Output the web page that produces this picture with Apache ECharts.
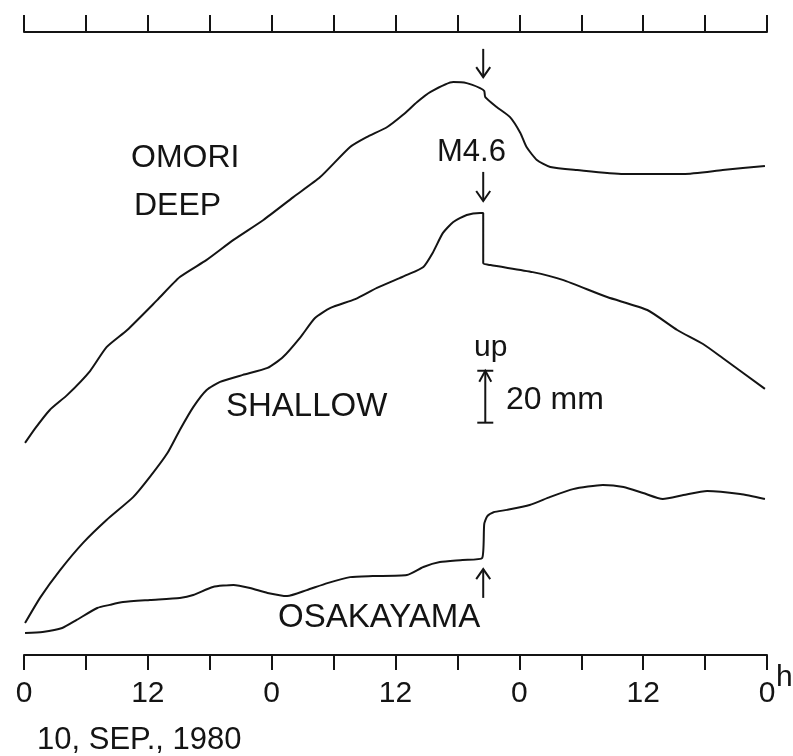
<!DOCTYPE html>
<html><head><meta charset="utf-8">
<script src="https://cdn.jsdelivr.net/npm/echarts@6/dist/echarts.min.js"></script>
<style>html,body{margin:0;padding:0;background:#fff}#c{width:793px;height:756px}</style>
</head><body><div id="c"></div>
<script>
// x: hours from 0h, 10 Sep 1980; y: vertical displacement in mm (arbitrary offset)
const tickLabels = ['0', '12', '0', '12', '0', '12', '0'];
const omoriDeep = [[0.1,81.7],[1.1,87.4],[2.5,94.4],[4.2,100.2],[6.4,109.4],[8.0,118.6],[10.0,125.2],[12.9,136.7],[15.1,145.6],[17.7,152.2],[20.3,159.9],[23.2,167.6],[26.1,176.4],[28.7,184.1],[31.6,195.7],[33.2,199.5],[35.2,203.4],[36.7,208.0],[38.1,213.0],[39.4,216.9],[41.6,220.7],[42.9,220.3],[44.2,218.4],[44.6,217.3],[44.7,214.9],[45.8,211.1],[47.1,207.2],[48.1,201.1],[48.7,195.7],[49.7,190.7],[51.0,188.0],[53.6,186.8],[58.1,185.3],[63.9,185.3],[67.7,186.8],[71.8,188.4]];
const shallow = [[0.1,12.3],[1.6,22.3],[3.5,32.7],[5.7,43.1],[8.0,52.0],[10.6,60.9],[12.2,68.6],[13.9,77.8],[15.1,86.7],[16.4,95.5],[17.7,102.1],[19.0,105.2],[21.2,107.9],[23.6,110.6],[25.1,114.8],[26.8,122.5],[28.2,129.8],[29.7,133.7],[32.1,137.1],[34.2,141.4],[36.4,145.2],[37.1,146.4],[38.7,149.5],[39.6,154.9],[40.6,162.6],[41.6,166.8],[42.9,169.5],[44.2,170.3],[44.5,170.3],[44.5,151.0],[45.2,150.2],[49.3,147.5],[52.2,144.5],[56.5,137.9],[60.4,132.9],[63.3,125.2],[65.8,119.8],[67.7,114.4],[71.8,102.5]];
const osakayama = [[0.1,8.5],[1.8,8.9],[3.7,10.4],[5.1,13.5],[7.1,18.1],[8.3,19.3],[9.6,20.4],[12.2,21.2],[15.1,22.0],[16.4,23.1],[18.3,26.2],[20.3,27.0],[21.9,25.8],[23.6,23.9],[25.5,22.7],[27.4,25.0],[29.4,27.7],[31.6,30.0],[33.8,30.4],[37.1,30.8],[38.7,33.9],[40.3,35.8],[42.5,36.6],[44.4,37.4],[44.6,50.5],[44.9,53.5],[45.5,55.0],[46.8,55.9],[49.0,57.8],[51.0,60.9],[53.2,63.9],[56.1,65.5],[58.1,64.7],[60.0,62.4],[61.9,60.1],[63.9,61.6],[66.2,63.2],[69.4,62.0],[71.8,60.1]];
const eventHour = 44.5;          // M4.6 earthquake
const arrowOmori = [233.5, 222.6];   // shaft start, tip (mm)
const arrowShallow = [186.1, 174.9];
const arrowOsaka = [22.0, 33.1];
const scaleBar = {hour: 44.7, from: 89.5, to: 109.5}; // 20 mm

const INK = '#141414';
const FONT = '"Liberation Sans", Arial, sans-serif';
const chart = echarts.init(document.getElementById('c'), null, {renderer: 'canvas'});
const lineSeries = (name, data) => ({
  name, type: 'line', data, showSymbol: false, smooth: 0.2,
  lineStyle: {color: INK, width: 2}, silent: true, animation: false
});
chart.setOption({
  animation: false,
  backgroundColor: '#fff',
  grid: {left: 24, right: 26, top: 32, bottom: 101},
  xAxis: [
    {type: 'value', min: 0, max: 72, interval: 6, position: 'bottom',
     axisLine: {lineStyle: {color: INK, width: 2}},
     axisTick: {length: 15, lineStyle: {color: INK, width: 2}},
     splitLine: {show: false},
     axisLabel: {color: INK, fontFamily: FONT, fontSize: 30, margin: 24,
       showMinLabel: true, showMaxLabel: true,
       formatter: v => (v % 12 === 0 ? tickLabels[v / 12] : '')}},
    {type: 'value', min: 0, max: 72, interval: 6, position: 'top',
     axisLine: {lineStyle: {color: INK, width: 2}},
     axisTick: {length: 17, lineStyle: {color: INK, width: 2}},
     splitLine: {show: false}, axisLabel: {show: false}}
  ],
  yAxis: {type: 'value', min: 0, max: 240, show: false, splitLine: {show: false}},
  series: [lineSeries('OMORI DEEP', omoriDeep), lineSeries('SHALLOW', shallow), lineSeries('OSAKAYAMA', osakayama)]
});

const p = (h, v) => chart.convertToPixel({xAxisIndex: 0, yAxisIndex: 0}, [h, v]);
const ls = {stroke: INK, lineWidth: 2, fill: null};
function arrow(h, from, to) {
  const a = p(h, from), b = p(h, to);
  const dir = b[1] > a[1] ? 1 : -1;
  return [
    {type: 'line', shape: {x1: a[0], y1: a[1], x2: b[0], y2: b[1]}, style: ls},
    {type: 'polyline', shape: {points: [[b[0] - 7, b[1] - dir * 10], [b[0], b[1]], [b[0] + 7, b[1] - dir * 10]]}, style: ls}
  ];
}
function txt(text, x, y, size) {
  return {type: 'text', x, y, style: {text, font: size + 'px ' + FONT, fill: INK, textVerticalAlign: 'middle', textAlign: 'left'}};
}
const sb0 = p(scaleBar.hour, scaleBar.from), sb1 = p(scaleBar.hour, scaleBar.to);
const g = [].concat(
  arrow(eventHour, arrowOmori[0], arrowOmori[1]),
  arrow(eventHour, arrowShallow[0], arrowShallow[1]),
  arrow(eventHour, arrowOsaka[0], arrowOsaka[1]),
  [
    {type: 'line', shape: {x1: sb0[0], y1: sb0[1], x2: sb1[0], y2: sb1[1]}, style: ls},
    {type: 'line', shape: {x1: sb0[0] - 8, y1: sb0[1], x2: sb0[0] + 8, y2: sb0[1]}, style: ls},
    {type: 'line', shape: {x1: sb1[0] - 8, y1: sb1[1], x2: sb1[0] + 8, y2: sb1[1]}, style: ls},
    {type: 'polyline', shape: {points: [[sb1[0] - 6, sb1[1] + 11], [sb1[0], sb1[1]], [sb1[0] + 6, sb1[1] + 11]]}, style: ls},
    txt('OMORI', 131, 158, 32),
    txt('DEEP', 134, 206, 32),
    txt('M4.6', 437, 152, 31),
    txt('SHALLOW', 226, 407, 33),
    txt('OSAKAYAMA', 278, 618, 33),
    txt('up', 474, 348, 30),
    txt('20 mm', 506, 400, 32),
    txt('10, SEP., 1980', 37, 740, 31),
    txt('h', 776, 678, 30)
  ]
);
chart.setOption({graphic: g});
</script>
</body></html>
